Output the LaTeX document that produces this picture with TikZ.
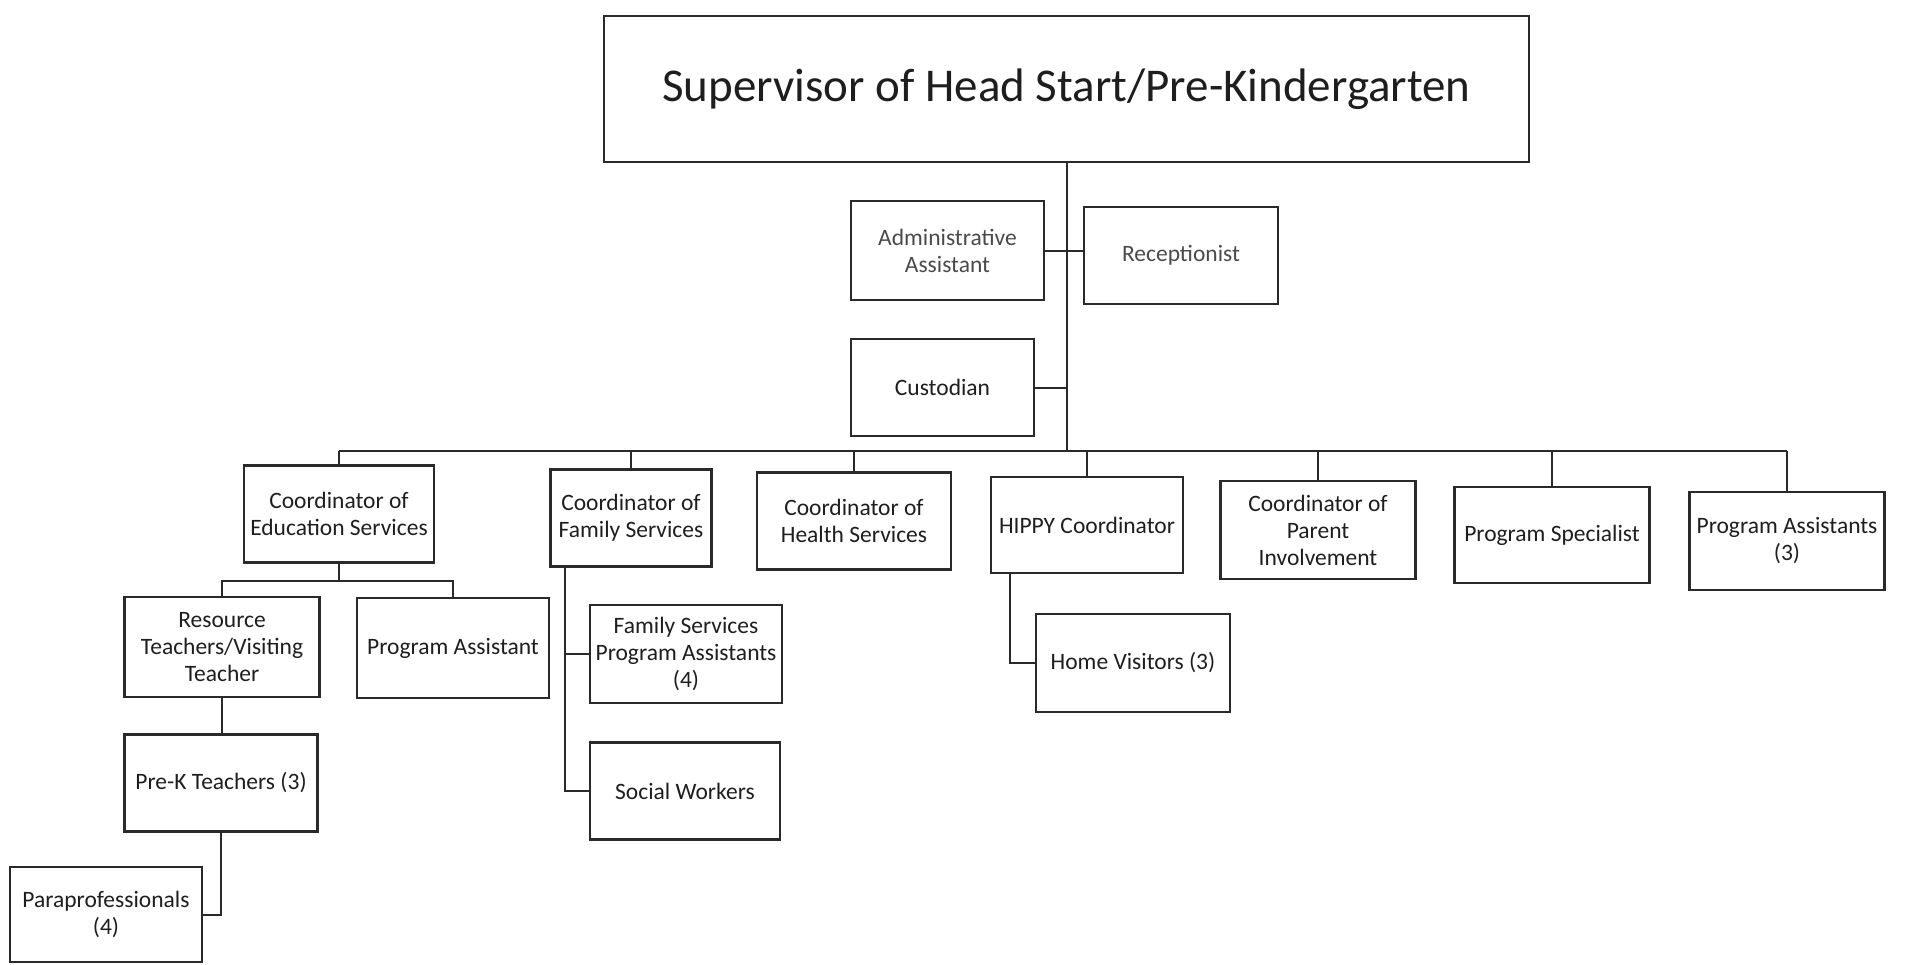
\documentclass[tikz,border=0pt]{standalone}
\usepackage{fontspec}
\setmainfont{Carlito}
\definecolor{linec}{HTML}{2A2A2A}
\definecolor{textc}{HTML}{1E1E1E}
\definecolor{textg}{HTML}{4A4A4A}
\begin{document}
\begin{tikzpicture}[x=1pt,y=-1pt,
  box/.style={draw=linec, line width=2.2pt, rectangle, inner sep=0pt, align=center,
              font=\fontsize{23.5}{27}\selectfont, text=textc},
  conn/.style={draw=linec, line width=2pt}]
\useasboundingbox (0,0) rectangle (1906,964);

% top
\node[box, minimum width=925pt, minimum height=146pt, font=\fontsize{47}{56}\selectfont] (top) at (1066.5,89) {Supervisor of Head Start/Pre-Kindergarten};

% staff
\node[box, text=textg, minimum width=193pt, minimum height=99pt] (admin) at (947.5,250.5) {Administrative\\Assistant};
\node[box, text=textg, minimum width=194pt, minimum height=97pt] (recep) at (1181,255.5) {Receptionist};
\node[box, minimum width=183pt, minimum height=97pt] (custod) at (942.5,387.5) {Custodian};

% level 2
\node[box, minimum width=190pt, minimum height=97pt] (ed) at (339,514) {Coordinator of\\Education Services};
\node[box, minimum width=161pt, minimum height=97pt] (fam) at (631,518) {Coordinator of\\Family Services};
\node[box, minimum width=194pt, minimum height=97pt] (health) at (854,521) {Coordinator of\\Health Services};
\node[box, minimum width=192pt, minimum height=96pt] (hippy) at (1087,525) {HIPPY Coordinator};
\node[box, minimum width=195pt, minimum height=98pt] (parent) at (1318,530) {Coordinator of\\Parent\\Involvement};
\node[box, minimum width=195pt, minimum height=96pt] (spec) at (1552,535) {Program Specialist};
\node[box, minimum width=195pt, minimum height=98pt] (pa3) at (1787,541) {Program Assistants\\(3)};

% level 3
\node[box, minimum width=195pt, minimum height=100pt] (res) at (222,647) {Resource\\Teachers/Visiting\\Teacher};
\node[box, minimum width=192pt, minimum height=100pt] (pa1) at (453,648) {Program Assistant};
\node[box, minimum width=193pt, minimum height=97pt] (prek) at (221,783) {Pre-K Teachers (3)};
\node[box, minimum width=192pt, minimum height=95pt] (para) at (106,914.5) {Paraprofessionals\\(4)};
\node[box, minimum width=192pt, minimum height=98pt] (fspa) at (686,654) {Family Services\\Program Assistants\\(4)};
\node[box, minimum width=190pt, minimum height=97pt] (social) at (685,791) {Social Workers};
\node[box, minimum width=194pt, minimum height=98pt] (home) at (1133,663) {Home Visitors (3)};

% connectors
\coordinate (bus) at (0,451);
\coordinate (edbus) at (0,581);
\draw[conn] (top.south) -- (top.south |- bus);
\draw[conn] (admin.east) -- (admin.east -| recep.west);
\draw[conn] (custod.east) -- (custod.east -| top.south);
\draw[conn] (ed.north |- bus) -- (pa3.north |- bus);
\foreach \n in {ed,fam,health,hippy,parent,spec,pa3}
  \draw[conn] (\n.north) -- (\n.north |- bus);

\draw[conn] (ed.south) -- (ed.south |- edbus);
\draw[conn] (res.north) -- (res.north |- edbus) -- (pa1.north |- edbus) -- (pa1.north);
\draw[conn] (res.south) -- (res.south |- prek.north);
\draw[conn] (prek.south) |- (para.east);

\draw[conn] ([xshift=-66pt]fam.south) |- (fspa.west);
\draw[conn] ([xshift=-66pt]fam.south) |- (social.west);

\draw[conn] ([xshift=-77pt]hippy.south) |- (home.west);
\end{tikzpicture}
\end{document}
